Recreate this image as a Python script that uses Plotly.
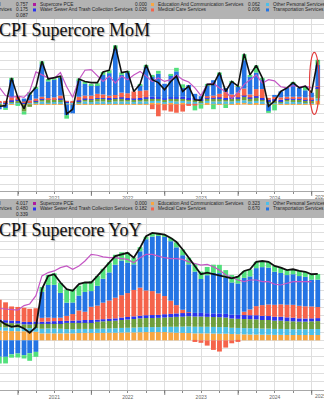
import plotly.graph_objects as go
import pandas as pd

# ---------------- data ----------------
months = pd.date_range("2020-09-30", periods=53, freq="ME")   # Sep-2020 .. Jan-2025 (month-end)

# MoM contributions (pp)
mom_edu = [0.02,0.01,0.02,0.02,0.01,0.01,0.02,0.02,0.01,0.02,0.01,0.02,0.02,0.02,0.02,0.02,
           0.02,0.02,0.01,0.02,0.02,0.02,0.02,0.02,0.02,0.03,0.03,0.02,
           0.03,0.02,0.03,0.02,0.02,0.02,0.03,0.02,0.02,0.02,0.02,0.03,
           0.04,0.02,0.03,0.02,0.02,0.02,0.02,0.02,0.02,0.02,0.02,0.02,
           0.062]
mom_op = [0.01,0.01,0.02,0.02,0.01,0.02,0.02,0.03,0.02,0.02,0.03,0.01,0.01,0.02,0.03,0.02,
          0.03,0.03,0.03,0.03,0.03,0.03,0.03,0.03,0.03,0.03,0.03,0.02,
          0.03,0.03,0.03,0.03,0.02,0.02,0.03,0.03,0.03,0.03,0.03,0.03,
          0.03,0.03,0.03,0.03,0.02,0.02,0.02,0.03,0.03,0.02,0.02,0.02,
          0.04]
mom_rec = [-0.03,0.00,0.02,0.03,-0.12,-0.04,0.02,0.04,0.05,0.04,0.05,0.01,0.00,0.02,0.04,0.04,
           0.05,0.05,0.05,0.05,0.05,0.04,0.03,0.04,0.05,0.05,0.04,0.04,
           0.04,0.05,0.05,0.04,0.04,0.03,0.04,0.05,0.05,0.04,0.05,0.04,
           0.06,0.05,0.06,0.04,0.02,0.03,0.02,0.04,0.03,0.04,0.03,0.03,
           0.175]
mom_water = [0.01,0.01,0.01,0.01,0.01,0.01,0.01,0.01,0.01,0.01,0.01,0.01,0.01,0.01,0.01,0.01,
             0.01,0.01,0.02,0.01,0.02,0.02,0.02,0.02,0.02,0.02,0.02,0.02,
             0.02,0.02,0.02,0.02,0.02,0.02,0.02,0.02,0.02,0.02,0.02,0.02,
             0.02,0.02,0.02,0.02,0.02,0.02,0.02,0.02,0.02,0.02,0.02,0.02,
             0.026]
mom_med = [0.02,0.03,0.05,0.06,0.02,0.03,0.03,0.03,0.02,0.03,0.05,0.01,0.02,0.06,0.05,0.06,
           0.07,0.06,0.04,0.05,0.08,0.08,0.12,0.12,0.12,-0.08,-0.20,-0.10,
           -0.12,-0.14,-0.12,-0.02,-0.02,0.00,0.02,0.03,0.06,0.10,0.05,0.08,
           0.12,0.05,0.12,0.15,0.03,0.04,0.04,0.02,0.03,0.03,0.03,0.03,
           0.006]
mom_trans = [-0.05,-0.06,0.30,0.00,0.05,0.10,0.18,0.55,0.28,0.30,0.30,-0.18,-0.15,0.28,0.20,0.18,
             0.15,0.33,0.38,0.78,0.30,0.35,0.00,0.10,0.40,0.35,0.40,0.25,
             0.38,0.44,0.15,0.22,0.08,0.05,0.18,0.26,0.32,0.07,0.20,0.10,
             0.48,0.30,0.28,0.17,-0.12,0.03,0.10,0.15,0.22,0.15,0.12,0.08,
             0.36]
mom_hh = [0.00,-0.02,0.03,-0.02,-0.05,0.04,0.01,0.05,0.04,0.03,0.03,-0.06,0.00,0.03,0.03,0.02,
          0.03,0.05,0.05,0.06,0.04,0.02,0.00,0.01,0.03,0.02,0.05,0.00,
          0.01,0.06,0.06,0.00,-0.08,-0.07,0.02,-0.08,0.04,-0.06,0.02,0.01,
          0.10,0.03,0.12,0.02,-0.02,-0.10,0.00,0.00,0.02,0.00,0.07,0.00,
          0.087]
mom_total = [-0.03,-0.02,0.45,0.12,-0.07,0.17,0.29,0.73,0.43,0.45,0.48,-0.16,-0.08,0.43,0.39,0.37,
             0.37,0.55,0.58,1.00,0.54,0.56,0.22,0.34,0.67,0.42,0.37,0.25,
             0.39,0.48,0.22,0.31,0.08,0.07,0.34,0.34,0.54,0.22,0.39,0.31,
             0.86,0.50,0.66,0.45,-0.03,0.06,0.22,0.28,0.37,0.28,0.31,0.20,
             0.757]
mom_pce = [0.29,0.15,0.12,0.14,0.12,0.22,0.55,0.50,0.45,0.44,0.54,0.30,0.12,0.42,0.58,0.59,
           0.48,0.39,0.48,0.36,0.48,0.42,0.50,0.56,0.48,0.39,0.45,0.39,
           0.42,0.50,0.42,0.38,0.28,0.15,0.34,0.36,0.28,0.22,0.10,0.20,
           0.34,0.42,0.50,0.36,0.42,0.40,0.30,0.28,0.32,0.30,0.31,0.28,
           None]

# YoY contributions (pp)
yoy_edu = [0.60,0.58,0.56,0.55,0.55,0.54,0.52,0.42,0.42,0.42,0.42,0.42,0.42,0.44,0.45,0.45,
           0.45,0.45,0.46,0.46,0.47,0.48,0.48,0.49,0.50,0.50,0.50,0.50,
           0.48,0.46,0.45,0.44,0.42,0.42,0.42,0.41,0.40,0.40,0.38,0.37,
           0.36,0.35,0.35,0.34,0.34,0.33,0.33,0.32,0.32,0.32,0.32,0.32,
           0.323]
yoy_op = [0.20,0.20,0.22,0.22,0.20,0.20,0.22,0.28,0.30,0.30,0.28,0.26,0.25,0.25,0.24,0.24,
          0.25,0.26,0.26,0.27,0.28,0.28,0.29,0.30,0.30,0.30,0.30,0.32,
          0.34,0.36,0.38,0.40,0.40,0.40,0.40,0.40,0.40,0.40,0.38,0.38,
          0.38,0.38,0.38,0.37,0.37,0.36,0.36,0.36,0.35,0.35,0.35,0.36,
          0.36]
yoy_rec = [0.30,0.28,0.26,0.25,0.22,0.22,0.25,0.30,0.30,0.32,0.35,0.38,0.40,0.40,0.42,0.42,
           0.42,0.44,0.45,0.46,0.48,0.50,0.52,0.54,0.55,0.55,0.56,0.56,
           0.58,0.60,0.60,0.62,0.62,0.62,0.60,0.60,0.60,0.58,0.56,0.55,
           0.55,0.55,0.54,0.52,0.52,0.50,0.50,0.48,0.48,0.46,0.46,0.47,
           0.480]
yoy_water = [0.16,0.16,0.16,0.15,0.15,0.15,0.15,0.12,0.12,0.12,0.12,0.12,0.12,0.12,0.12,0.12,
             0.13,0.13,0.14,0.14,0.15,0.15,0.16,0.16,0.17,0.18,0.18,0.20,
             0.20,0.21,0.22,0.22,0.22,0.22,0.22,0.22,0.22,0.22,0.23,0.24,
             0.24,0.24,0.25,0.25,0.24,0.24,0.24,0.23,0.22,0.20,0.19,0.18,
             0.182]
yoy_med = [1.20,1.08,0.85,0.85,0.85,0.80,0.80,0.24,0.24,0.20,0.20,0.30,0.40,0.60,0.50,0.80,
           0.85,1.00,1.10,1.25,1.35,1.45,1.60,1.70,1.50,1.45,1.30,1.10,
           0.80,0.50,0.20,0.02,-0.10,-0.15,-0.32,-0.58,-0.68,-0.44,-0.18,-0.04,
           0.20,0.35,0.55,0.65,0.70,0.72,0.75,0.76,0.78,0.76,0.74,0.72,
           0.670]
yoy_trans = [-1.00,-1.00,-0.85,-0.80,-0.90,-0.78,-0.70,1.57,1.97,2.00,1.50,0.80,0.70,0.90,1.20,0.95,
             1.20,1.45,1.70,2.00,2.10,1.85,1.55,2.20,3.10,3.30,3.50,3.60,
             3.60,3.50,3.30,2.90,2.50,2.05,2.30,2.45,2.45,2.20,1.95,1.90,
             2.05,2.00,2.30,2.30,2.23,2.00,1.90,1.80,1.85,1.80,1.78,1.63,
             1.66]
yoy_hh = [-0.40,-0.40,-0.20,-0.24,-0.20,-0.46,-0.30,0.30,0.60,0.70,0.60,0.80,0.80,0.60,0.60,0.60,
          0.60,0.60,0.60,0.60,0.50,0.60,0.40,0.25,0.15,0.20,0.10,0.10,
          0.20,0.30,0.35,0.40,0.45,0.45,0.50,0.50,0.50,0.45,0.45,0.45,
          0.42,0.42,0.38,0.37,0.35,0.35,0.32,0.30,0.30,0.31,0.31,0.32,
          0.339]
yoy_total = [1.22,0.96,0.82,0.88,0.72,0.46,0.80,3.10,3.90,4.00,3.50,3.10,3.00,3.40,3.50,3.50,
             3.90,4.30,4.70,5.10,5.20,5.30,5.00,5.60,6.30,6.50,6.45,6.40,
             6.20,5.95,5.50,5.00,4.55,4.00,4.10,4.00,3.90,3.80,3.75,3.85,
             4.20,4.30,4.75,4.80,4.75,4.50,4.40,4.25,4.30,4.20,4.15,4.00,
             4.017]
yoy_pce = [1.93,1.90,1.90,1.83,2.10,2.20,2.70,3.90,4.10,4.20,4.40,4.50,4.30,4.50,4.80,5.20,
           5.15,5.05,5.00,5.00,4.95,4.90,4.70,5.00,5.20,5.20,5.10,5.00,
           4.95,4.95,4.90,4.75,4.65,4.55,4.60,4.45,4.25,3.95,3.80,3.65,
           3.55,3.65,3.65,3.55,3.55,3.40,3.35,3.45,3.55,3.55,3.55,3.55,
           None]

# legend values shown in the header bands
legend_mom = {"total": "0.757", "rec": "0.175", "hh": "0.087", "pce": "0.000",
              "water": "0.026", "edu": "0.062", "med": "0.006", "op": "0.040", "trans": "0.360"}
legend_yoy = {"total": "4.017", "rec": "0.480", "hh": "0.339", "pce": "0.000",
              "water": "0.182", "edu": "0.323", "med": "0.670", "op": "0.360", "trans": "1.663"}

year_ticks = ["2020-10-01","2021-01-01","2021-04-01","2021-07-01","2021-10-01","2022-01-01","2022-04-01",
              "2022-07-01","2022-10-01","2023-01-01","2023-04-01","2023-07-01","2023-10-01","2024-01-01",
              "2024-04-01","2024-07-01","2024-10-01","2025-01-01"]
year_text = ["", "", "", "2021", "", "", "", "2022", "", "", "", "2023", "", "", "", "2024", "", ""]
year_starts = ["2021-01-01", "2022-01-01", "2023-01-01", "2024-01-01", "2025-01-01"]

# ---------------- styles ----------------
C = dict(edu="#f8a641", op="#4cbfe9", rec="#6f9f3d", water="#2b33ee", med="#f5634b",
         trans="#2474e4", hh="#52e07c", pce="#c456c4", pce_sq="#b0189f", total="#111111")
W, H = 324, 400
def px(x): return x / W
def py(y): return 1 - y / H

series = [("edu", mom_edu, yoy_edu), ("op", mom_op, yoy_op), ("rec", mom_rec, yoy_rec),
          ("water", mom_water, yoy_water), ("med", mom_med, yoy_med),
          ("trans", mom_trans, yoy_trans), ("hh", mom_hh, yoy_hh)]

fig = go.Figure()
DAY = 86400000
for key, mv, yv in series:
    fig.add_trace(go.Bar(x=months, y=mv, width=23 * DAY, marker=dict(color=C[key], line_width=0),
                         xaxis="x", yaxis="y", showlegend=False))
    fig.add_trace(go.Bar(x=months, y=yv, width=24 * DAY, marker=dict(color=C[key], line_width=0),
                         xaxis="x2", yaxis="y2", showlegend=False))
fig.add_trace(go.Scatter(x=months, y=mom_pce, mode="lines", line=dict(color=C["pce"], width=1.2),
                         xaxis="x", yaxis="y", showlegend=False))
fig.add_trace(go.Scatter(x=months, y=mom_total, mode="lines", line=dict(color=C["total"], width=1.6),
                         xaxis="x", yaxis="y", showlegend=False))
fig.add_trace(go.Scatter(x=months, y=yoy_pce, mode="lines", line=dict(color=C["pce"], width=1.2),
                         xaxis="x2", yaxis="y2", showlegend=False))
fig.add_trace(go.Scatter(x=months, y=yoy_total, mode="lines", line=dict(color=C["total"], width=1.8),
                         xaxis="x2", yaxis="y2", showlegend=False))

xr = ["2020-10-03 10:00", "2025-03-03"]
grid = "#dedede"
xcommon = dict(type="date", range=xr, tickmode="array", tickvals=year_ticks, ticktext=year_text,
               ticks="outside", ticklen=2, tickwidth=1, tickcolor="#8a8a8a",
               showline=True, linecolor="#a8a8a8", linewidth=1,
               showgrid=True, gridcolor=grid, gridwidth=1, zeroline=False,
               tickfont=dict(family="Liberation Sans", size=5, color="#666"), fixedrange=True)
ycommon = dict(showticklabels=False, showgrid=True, gridcolor=grid, gridwidth=1,
               zeroline=False, ticks="", tick0=0, fixedrange=True)

fig.update_layout(
    width=W, height=H, margin=dict(l=0, r=0, t=0, b=0),
    paper_bgcolor="white", plot_bgcolor="white", barmode="relative", showlegend=False,
    xaxis=dict(domain=[0, 1], anchor="y", **xcommon),
    xaxis2=dict(domain=[0, 1], anchor="y2", **xcommon),
    yaxis=dict(domain=[py(192), py(19)], range=[-1.465, 1.448], dtick=0.15, **ycommon),
    yaxis2=dict(domain=[py(392), py(219)], range=[-3.01, 7.41], dtick=0.5, **ycommon),
)

shapes = []
# grey header bands
shapes.append(dict(type="rect", xref="paper", yref="paper", x0=0, x1=1, y0=py(19), y1=1,
                   fillcolor="#b3b3b3", line_width=0, layer="above"))
shapes.append(dict(type="rect", xref="paper", yref="paper", x0=0, x1=1, y0=py(219), y1=py(200),
                   fillcolor="#b3b3b3", line_width=0, layer="above"))
# year boundary ticks
for ys in year_starts:
    for yr in ("y domain", "y2 domain"):
        shapes.append(dict(type="line", xref="x" if yr == "y domain" else "x2", yref=yr,
                           x0=ys, x1=ys, y0=0, y1=-0.028, line=dict(color="#777", width=1)))
# red ellipse around latest MoM print
shapes.append(dict(type="circle", xref="x", yref="y", x0="2024-12-21", x1="2025-02-07",
                   y0=-0.17, y1=0.88, line=dict(color="#e23a3a", width=1.2)))

annotations = []
def txt(x, y, s, anchor="left", size=4.8, color="#262626", family="Liberation Sans"):
    annotations.append(dict(xref="paper", yref="paper", x=px(x), y=py(y), text=s, showarrow=False,
                            xanchor=anchor, yanchor="middle", borderpad=0,
                            font=dict(family=family, size=size, color=color)))

def legend_band(top, vals):
    r1, r2, r3 = top + 4.5, top + 10, top + 15.3
    txt(1.5, r1, "CPI Supercore Services Total", "right")
    txt(13.8, r2, "Recreation Services", "right")
    txt(-1, r3, "Household Operations", "right")
    txt(28.5, r1, vals["total"], "right")
    txt(28.5, r2, vals["rec"], "right")
    txt(28.5, r3, vals["hh"], "right")
    items = [(33, r1, "pce_sq", "Supercore PCE", 147.5, vals["pce"]),
             (33, r2, "water", "Water Sewer And Trash Collection Services", 147.5, vals["water"]),
             (151, r1, "edu", "Education And Communication Services", 260.5, vals["edu"]),
             (151, r2, "med", "Medical Care Services", 260.5, vals["med"]),
             (266, r1, "op", "Other Personal Services", 372, vals["op"]),
             (266, r2, "trans", "Transportation Services", 372, vals["trans"])]
    for sx, ry, key, label, vx, v in items:
        shapes.append(dict(type="rect", xref="paper", yref="paper", x0=px(sx), x1=px(sx + 3),
                           y0=py(ry + 1.5), y1=py(ry - 1.5), fillcolor=C[key], line_width=0,
                           layer="above"))
        txt(sx + 5.5, ry, label, "left")
        txt(vx, ry, v, "right")

legend_band(0, legend_mom)
legend_band(200, legend_yoy)

title_font = dict(family="Liberation Serif", size=18, color="#111",
                  shadow="1px 1px 1px rgba(0,0,0,0.35)")
annotations.append(dict(xref="paper", yref="paper", x=px(-2.5), y=py(30), text="CPI Supercore MoM",
                        showarrow=False, xanchor="left", yanchor="middle", borderpad=0, font=title_font))
annotations.append(dict(xref="paper", yref="paper", x=px(-2.5), y=py(231), text="CPI Supercore YoY",
                        showarrow=False, xanchor="left", yanchor="middle", borderpad=0, font=title_font))
# cut-off 2025 label at the right edge
for xa, ya in (("x", "y domain"), ("x2", "y2 domain")):
    annotations.append(dict(xref=xa, yref=ya, x="2025-01-14", y=-0.012, text="2025", showarrow=False,
                            xanchor="left", yanchor="top", borderpad=0,
                            font=dict(family="Liberation Sans", size=5, color="#666")))

fig.update_layout(shapes=shapes, annotations=annotations)
fig.write_html("out.html")
